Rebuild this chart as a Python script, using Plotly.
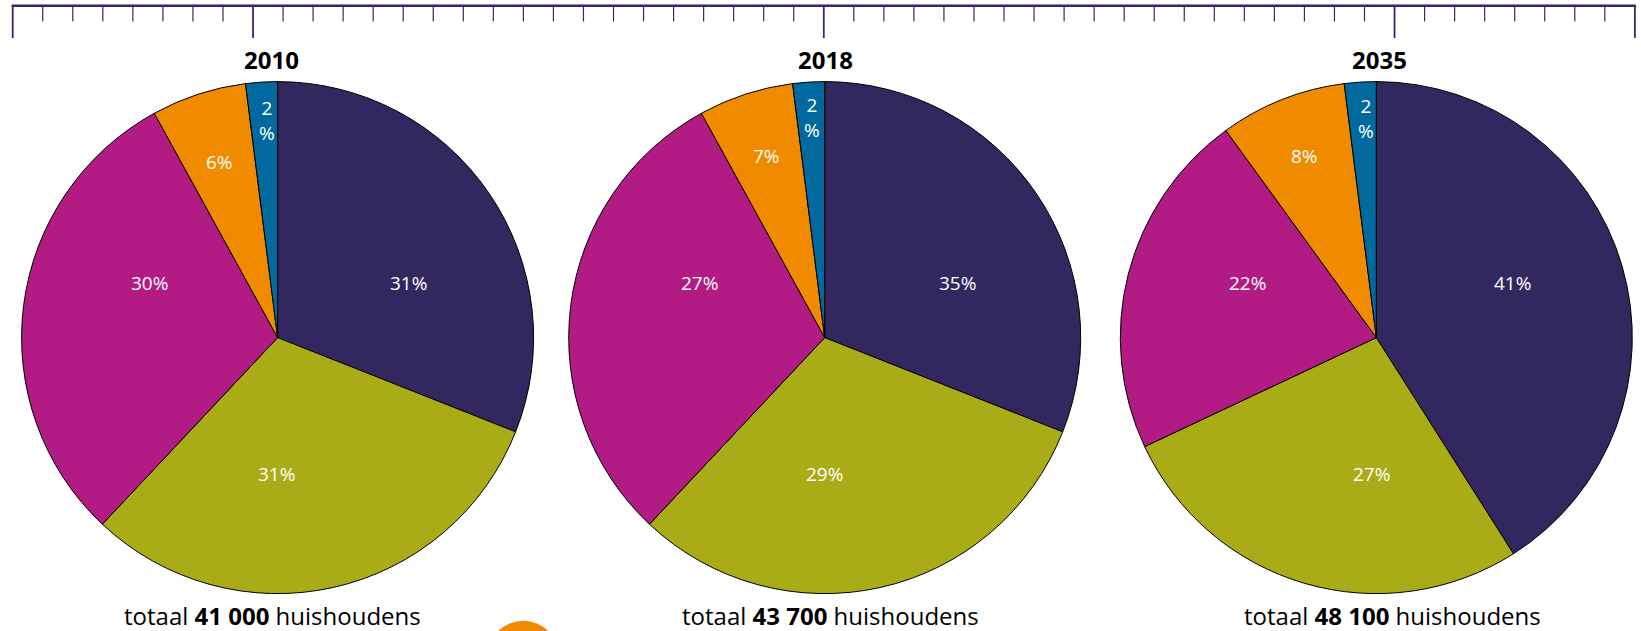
import plotly.graph_objects as go

# ---------------- data ----------------
years = ["2010", "2018", "2035"]
totals = ["41 000", "43 700", "48 100"]
categories = ["eenpersoonshuishoudens", "paren zonder kinderen", "paren met kinderen",
              "eenoudergezinnen", "overig"]
# printed percentages
label_2010 = [31, 31, 30, 6, 2]
label_2018 = [35, 29, 27, 7, 2]
label_2035 = [41, 27, 22, 8, 2]
# slice sizes as drawn in the picture (the 2018 pie is drawn with the same
# slice geometry as the 2010 pie)
slice_2010 = [31, 31, 30, 6, 2]
slice_2018 = [31, 31, 30, 6, 2]
slice_2035 = [41, 27, 22, 8, 2]
labels_all = [label_2010, label_2018, label_2035]
slices_all = [slice_2010, slice_2018, slice_2035]

# ---------------- style / layout ----------------
W, H = 1641, 631
colors = ["#32275f", "#a9ac17", "#b21b83", "#f08b00", "#01699d"]
axis_color = "#2f2a6c"
FONT = "Open Sans, Noto Sans, sans-serif"

pie_cx = [277.6, 824.7, 1376.3]
pie_cy = 337.6
pie_r = 256.0
title_x = [271, 826, 1379]
title_y = 59.5
total_x = [272.5, 830, 1392]
total_y = 615
# label centres (px) per slice, per pie
label_px = [
    [(408.2, 282.6), (276.3, 474.1), (149.7, 282.6), (219.8, 162.2), (267.0, 120.0)],
    [(957.6, 282.6), (824.7, 474.1), (699.1, 282.6), (766.1, 155.9), (812.0, 117.0)],
    [(1512.3, 282.6), (1371.0, 474.1), (1247.5, 282.6), (1304.0, 155.9), (1366.0, 118.5)],
]


def px(x):
    return x / W


def py(y):
    return 1 - y / H


fig = go.Figure()
annotations = []
for i, yr in enumerate(years):
    cx = pie_cx[i]
    vals = slices_all[i]
    fig.add_trace(go.Pie(
        values=vals, labels=categories, sort=False, direction="clockwise", rotation=0,
        marker=dict(colors=colors, line=dict(color="black", width=1)),
        textinfo="none", showlegend=False, name=yr,
        customdata=labels_all[i],
        domain=dict(x=[px(cx - pie_r), px(cx + pie_r)],
                    y=[py(pie_cy + pie_r), py(pie_cy - pie_r)]),
        hovertemplate="%{label}: %{customdata}%<extra>" + yr + "</extra>",
    ))
    # year title
    annotations.append(dict(x=px(title_x[i]), y=py(title_y), xref="paper", yref="paper",
                            text="<b>" + yr + "</b>", showarrow=False,
                            xanchor="center", yanchor="middle",
                            font=dict(family=FONT, size=24, color="black")))
    # total
    annotations.append(dict(x=px(total_x[i]), y=py(total_y), xref="paper", yref="paper",
                            text="totaal <b>" + totals[i] + "</b> huishoudens", showarrow=False,
                            xanchor="center", yanchor="middle",
                            font=dict(family=FONT, size=24, color="black")))
    # slice labels
    labs = labels_all[i]
    for j, v in enumerate(labs):
        lx, ly = label_px[i][j]
        txt = f"{v}<br>%" if j == len(labs) - 1 else f"{v}%"
        annotations.append(dict(x=px(lx), y=py(ly), xref="paper", yref="paper",
                                text=txt, showarrow=False, xanchor="center", yanchor="middle",
                                font=dict(family=FONT, size=19, color="white")))

# ---------------- timeline at top ----------------
shapes = []
x_start, step, n_int = 12.7, 30.04, 54
major_idx = {0, 8, 27, 46, 54}
line_y = 5.8
shapes.append(dict(type="line", xref="paper", yref="paper",
                   x0=px(x_start - 1), x1=px(x_start + step * n_int + 1),
                   y0=py(line_y), y1=py(line_y), line=dict(color=axis_color, width=2.5)))
for k in range(n_int + 1):
    xk = x_start + step * k
    major = k in major_idx
    shapes.append(dict(type="line", xref="paper", yref="paper",
                       x0=px(xk), x1=px(xk), y0=py(line_y), y1=py(38 if major else 21.5),
                       line=dict(color=axis_color, width=1.8 if major else 1.2)))

# decorative orange circle at the bottom
shapes.append(dict(type="circle", xref="paper", yref="paper",
                   x0=px(523.3 - 35.5), x1=px(523.3 + 35.5),
                   y0=py(656.2 + 35.5), y1=py(656.2 - 35.5),
                   fillcolor="#f18a00", line=dict(width=0)))

fig.update_layout(width=W, height=H, margin=dict(l=0, r=0, t=0, b=0),
                  paper_bgcolor="white", plot_bgcolor="white",
                  annotations=annotations, shapes=shapes,
                  font=dict(family=FONT))
fig.write_html("out.html", config={"displayModeBar": False},
               post_script="document.body.style.margin='0';document.body.style.overflow='hidden';")
